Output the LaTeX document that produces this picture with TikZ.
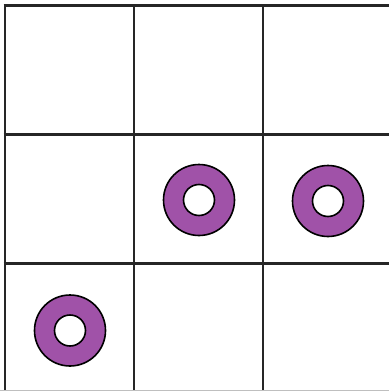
\documentclass[tikz,border=0pt]{standalone}
\begin{document}
\begin{tikzpicture}[x=1pt,y=-1pt,
  gridline/.style={line width=2.6pt,draw=black!85},
  ring/.style={fill=ringpurple,draw=black,line width=1.6pt,even odd rule}]
\definecolor{ringpurple}{RGB}{160,82,168}
\useasboundingbox (0,0) rectangle (389,391);
\fill[white] (0,0) rectangle (389,391);
% grid
\draw[gridline] (5,5.7) -- (5,391);
\draw[gridline] (134,5.7) -- (134,391);
\draw[gridline] (263,5.7) -- (263,391);
\draw[gridline] (3.7,5.7) -- (389,5.7);
\draw[gridline] (3.7,134.7) -- (389,134.7);
\draw[gridline] (3.7,263.3) -- (389,263.3);
\draw[line width=1pt,black!25] (0,390.5) -- (389,390.5);
% rings
\path[ring] (199,200) circle[radius=35.5] (199,200) circle[radius=15.5];
\path[ring] (328,201) circle[radius=35.5] (328,201) circle[radius=15.5];
\path[ring] (70,330.5) circle[radius=35.5] (70,330.5) circle[radius=15.5];
\end{tikzpicture}
\end{document}
